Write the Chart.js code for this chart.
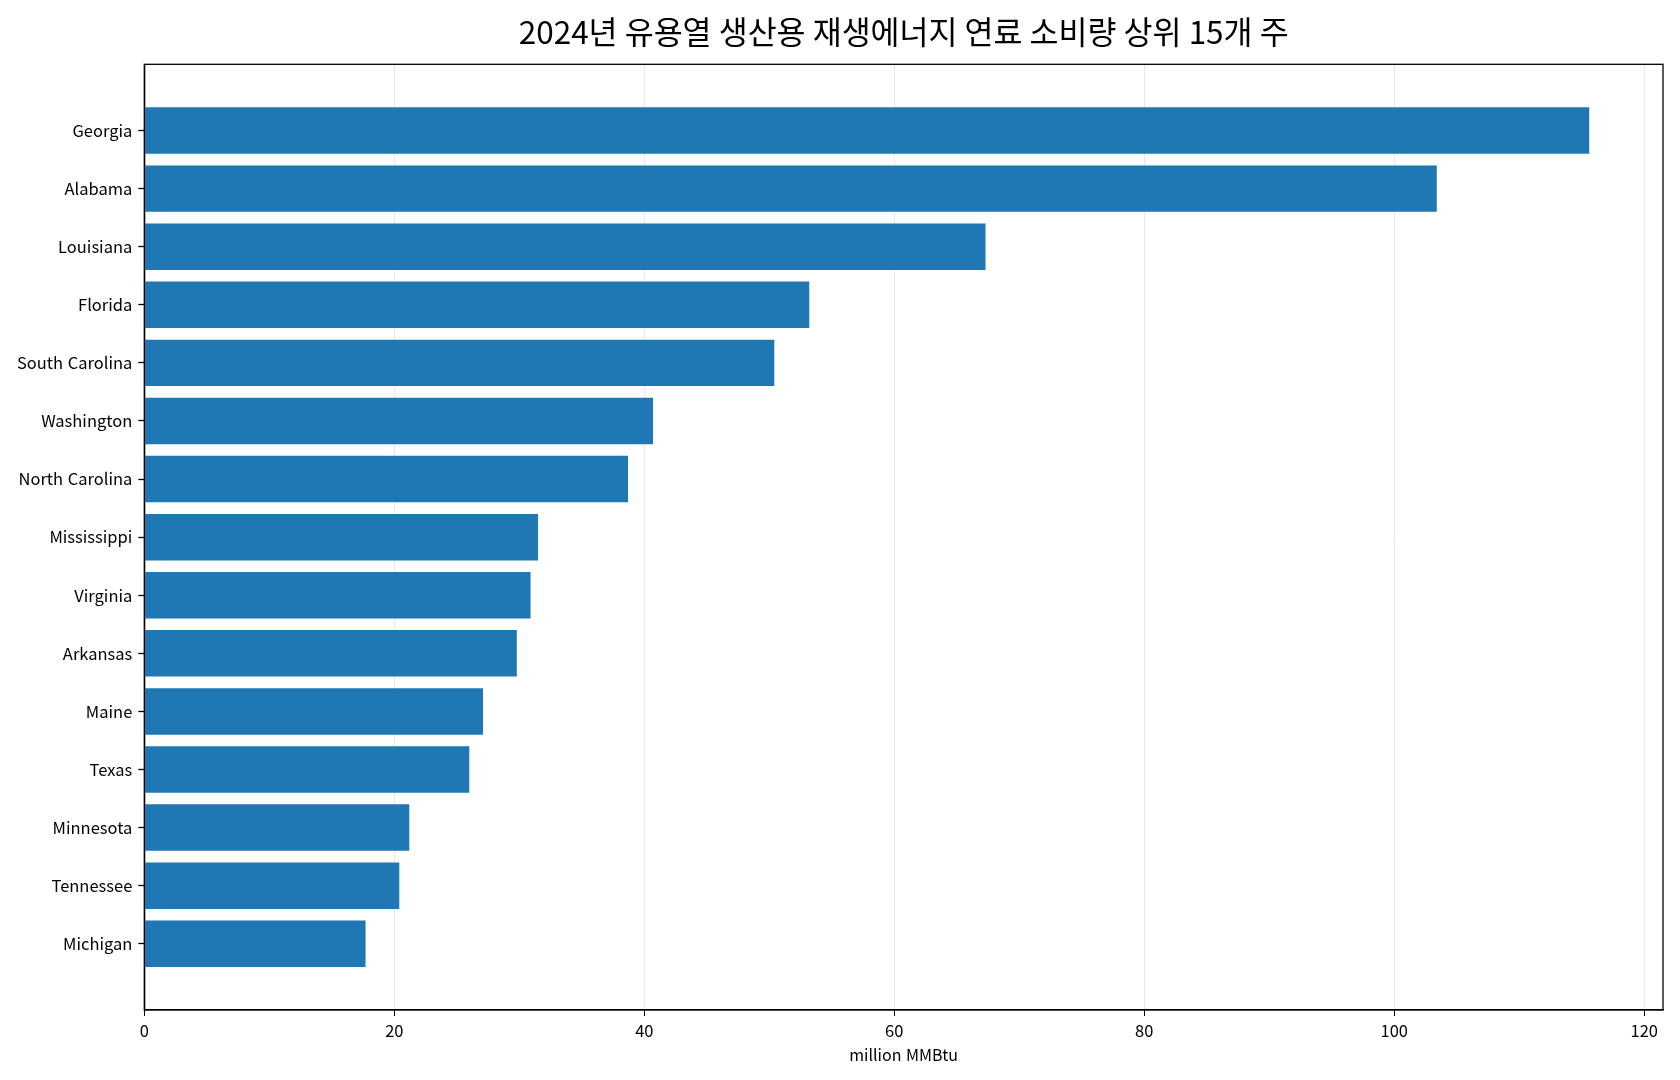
<!DOCTYPE html>
<html lang="ko">
<head>
    <meta charset="UTF-8">
    <title>2024년 유용열 생산용 재생에너지 연료 소비량 상위 15개 주</title>
    <script src="https://cdn.jsdelivr.net/npm/chart.js@4"></script>
    <style>
        html, body { margin: 0; padding: 0; background: #fff; }
        #wrap { width: 1680px; height: 1080px; }
    </style>
</head>
<body>
    <div id="wrap">
        <canvas id="myChart" width="1680" height="1080"></canvas>
    </div>
    <script>
        // states, top to bottom
        const states = [
            "Georgia", "Alabama", "Louisiana", "Florida", "South Carolina",
            "Washington", "North Carolina", "Mississippi", "Virginia", "Arkansas",
            "Maine", "Texas", "Minnesota", "Tennessee", "Michigan"
        ];
        // million MMBtu
        const consumption = [
            115.6, 103.4, 67.3, 53.2, 50.4,
            40.7, 38.7, 31.5, 30.9, 29.8,
            27.1, 26.0, 21.2, 20.4, 17.7
        ];
        const xTickStep = 20;
        const xMax = 121.5;

        const fontFamily = '"Noto Sans CJK KR", "Noto Sans", sans-serif';
        Chart.defaults.font.family = fontFamily;
        Chart.defaults.color = '#000';

        // matplotlib-style closed frame
        const frame = {
            id: 'frame',
            afterDraw(chart) {
                const a = chart.chartArea;
                const ctx = chart.ctx;
                ctx.save();
                ctx.strokeStyle = '#000';
                ctx.lineWidth = 1.3;
                ctx.strokeRect(a.left, a.top, a.right - a.left, a.bottom - a.top);
                ctx.restore();
            }
        };

        const ctx = document.getElementById('myChart').getContext('2d');
        const myChart = new Chart(ctx, {
            type: 'bar',
            data: {
                datasets: [{
                    label: 'million MMBtu',
                    data: consumption.map((v, i) => ({ x: v, y: i })),
                    backgroundColor: '#1f77b4',
                    borderWidth: 0,
                    barPercentage: 0.8,
                    categoryPercentage: 1.0
                }]
            },
            options: {
                indexAxis: 'y',
                responsive: false,
                animation: false,
                devicePixelRatio: 1,
                layout: { padding: { left: 0, right: 17, top: 0, bottom: 0 } },
                plugins: {
                    legend: { display: false },
                    tooltip: { enabled: false },
                    title: {
                        display: true,
                        fullSize: false,   // centre over the plot area like matplotlib
                        text: '2024년 유용열 생산용 재생에너지 연료 소비량 상위 15개 주',
                        color: '#000',
                        font: { size: 31.5, weight: 'normal', family: fontFamily },
                        padding: { top: 13, bottom: 13.5 }
                    }
                },
                scales: {
                    x: {
                        type: 'linear',
                        min: 0,
                        max: xMax,
                        grid: {
                            color: '#e8e8e8',
                            lineWidth: 1,
                            drawTicks: true,
                            tickColor: '#000',
                            tickLength: 6
                        },
                        border: { color: '#000', width: 1.3 },
                        ticks: {
                            stepSize: xTickStep,
                            includeBounds: false,
                            padding: 5,
                            color: '#000',
                            font: { size: 16.5 }
                        },
                        title: {
                            display: true,
                            text: 'million MMBtu',
                            color: '#000',
                            font: { size: 16 },
                            padding: { top: 0, bottom: 15 }
                        },
                        afterFit(scale) { scale.height = 70; }
                    },
                    y: {
                        type: 'linear',
                        reverse: true,
                        offset: false,
                        min: -1.14,
                        max: 15.14,
                        grid: {
                            offset: false,
                            drawOnChartArea: false,
                            drawTicks: true,
                            tickColor: '#000',
                            tickWidth: 1.3,
                            tickLength: 6
                        },
                        border: { color: '#000', width: 1.3 },
                        afterBuildTicks(axis) {
                            axis.ticks = states.map((s, i) => ({ value: i }));
                        },
                        ticks: {
                            autoSkip: false,
                            padding: 6,
                            color: '#000',
                            font: { size: 16.5 },
                            callback: (value) => states[value]
                        },
                        afterFit(scale) { scale.width = 144.3; }
                    }
                }
            },
            plugins: [frame]
        });
    </script>
</body>
</html>
